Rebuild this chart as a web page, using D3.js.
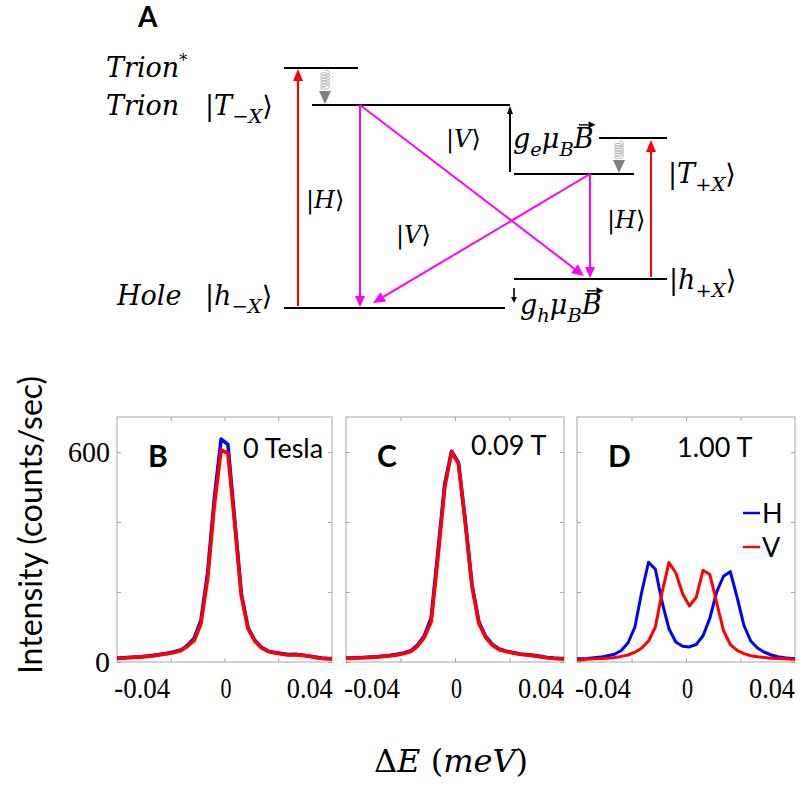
<!DOCTYPE html>
<html>
<head>
<meta charset="utf-8">
<script src="https://cdn.jsdelivr.net/npm/d3@7"></script>
<style>
  body { margin: 0; background: #fff; }
  svg { display: block; }
</style>
</head>
<body>
<script>
// energy detuning (meV)
var energy = [-0.08, -0.0775, -0.0725, -0.0675, -0.0625, -0.0575, -0.0525, -0.0475, -0.0425,
              -0.0375, -0.0325, -0.0275, -0.0225, -0.0175, -0.0125, -0.0075, -0.0025,
              0.0025, 0.0075, 0.0125, 0.0175, 0.0225, 0.0275, 0.0325, 0.0375, 0.0425,
              0.0475, 0.0525, 0.0575, 0.0625, 0.0675, 0.0725, 0.0775, 0.08];

// panel B, 0 Tesla
var blueB = [11, 11, 13, 14, 15, 17, 19, 22, 25, 29, 34, 48, 68, 120, 255, 470, 637,
             622, 410, 195, 98, 62, 42, 31, 27, 24, 21, 22, 20, 17, 14, 11, 10, 10];
var redB  = [10, 10, 12, 13, 14, 16, 18, 21, 24, 27, 32, 45, 62, 110, 240, 450, 606,
             596, 400, 190, 95, 60, 40, 30, 26, 23, 20, 21, 19, 17, 13, 10, 9, 9];
// panel C, 0.09 T
var blueC = [11, 11, 12, 13, 14, 15, 17, 19, 22, 26, 32, 48, 75, 125, 315, 510, 602,
             570, 405, 220, 115, 73, 50, 37, 31, 27, 23, 21, 19, 16, 13, 11, 10, 10];
var redC  = [10, 10, 11, 12, 13, 14, 16, 18, 20, 24, 30, 45, 70, 115, 300, 500, 600,
             567, 400, 215, 110, 70, 48, 35, 30, 26, 22, 20, 18, 15, 12, 10, 9, 9];
// panel D, 1.00 T
var blueD = [9, 9, 10, 12, 14, 18, 22, 33, 55, 100, 200, 285, 265, 170, 95, 57, 45,
             43, 50, 75, 125, 200, 245, 258, 185, 105, 60, 40, 28, 20, 15, 12, 10, 10];
var redD  = [6, 6, 8, 9, 10, 11, 13, 16, 20, 28, 40, 60, 100, 200, 284, 255, 195,
             160, 185, 262, 250, 170, 90, 50, 33, 24, 18, 15, 13, 11, 10, 9, 8, 8];

var panelNames = ["B", "C", "D"];
var fieldLabels = ["0 Tesla", "0.09 T", "1.00 T"];
var xTicks = [-0.04, 0, 0.04];
var yTicks = [0, 200, 400, 600];
var yTickLabels = [0, 600];
var legendNames = ["H", "V"];
var colors = {H: "#0000ff", V: "#ff0000"};

var svg = d3.select("body").append("svg")
            .attr("width", 800)
            .attr("height", 785);

var serif = "'DejaVu Serif', serif";
var sans = "Lato, 'Open Sans', sans-serif";

drawDiagram();
drawPanels();

function drawPanels() {
  var frames = [{x0: 117, x1: 332}, {x0: 346, x1: 564}, {x0: 577, x1: 795}];
  var top = 417, bottom = 662;
  var series = [[blueB, redB], [blueC, redC], [blueD, redD]];

  frames.forEach(function(f, p) {
    var x = d3.scaleLinear().domain([-0.08, 0.08]).range([f.x0, f.x1]);
    var y = d3.scaleLinear().domain([0, 700]).range([bottom, top]);
    var g = svg.append("g").attr("class", "panel");

    g.append("rect")
     .attr("x", f.x0).attr("y", top)
     .attr("width", f.x1 - f.x0).attr("height", bottom - top)
     .attr("fill", "none").attr("stroke", "#a6a6a6");

    var xb = g.append("g").attr("transform", "translate(0," + bottom + ")")
              .call(d3.axisBottom(x).tickValues(xTicks).tickSize(-4).tickPadding(15)
                      .tickFormat(function(d){ return d == 0 ? "0" : d3.format(".2f")(d).replace("−", "-"); }));
    g.append("g").attr("transform", "translate(0," + top + ")")
     .call(d3.axisTop(x).tickValues(xTicks).tickSize(-4).tickFormat(""));
    var yl = g.append("g").attr("transform", "translate(" + f.x0 + ",0)")
              .call(d3.axisLeft(y).tickValues(yTicks).tickSize(-4).tickPadding(7)
                      .tickFormat(function(d){ return (p == 0 && yTickLabels.indexOf(d) >= 0) ? d : ""; }));
    g.append("g").attr("transform", "translate(" + f.x1 + ",0)")
     .call(d3.axisRight(y).tickValues(yTicks).tickSize(-4).tickFormat(""));

    g.selectAll(".domain").remove();
    g.selectAll(".tick line").attr("stroke", "#a6a6a6");
    g.selectAll(".tick text")
     .attr("font-family", "'Liberation Serif', serif")
     .attr("font-size", 30)
     .attr("fill", "#000");
    xb.selectAll(".tick text")
      .attr("text-anchor", function(d){ return d < 0 ? "end" : d > 0 ? "start" : "middle"; })
      .attr("x", function(d){ return d < 0 ? -1 : d > 0 ? 8 : 1; })
      .attr("textLength", function(d){ return d < 0 ? 56 : d > 0 ? 46 : 11; })
      .attr("lengthAdjust", "spacingAndGlyphs");
    yl.selectAll(".tick text")
      .filter(function(d){ return d == 600; })
      .attr("textLength", 42)
      .attr("lengthAdjust", "spacingAndGlyphs");

    var line = d3.line()
                 .x(function(d, i){ return x(energy[i]); })
                 .y(function(d){ return y(d); });
    var w = p == 2 ? 3 : 3.6;
    g.append("path").datum(series[p][0])
     .attr("d", line).attr("fill", "none")
     .attr("stroke", colors.H).attr("stroke-width", w).attr("stroke-linejoin", "round");
    g.append("path").datum(series[p][1])
     .attr("d", line).attr("fill", "none")
     .attr("stroke", colors.V).attr("stroke-width", w).attr("stroke-linejoin", "round");

    g.append("text")
     .attr("x", f.x0 + 31).attr("y", 467)
     .attr("font-family", sans).attr("font-weight", "bold").attr("font-size", 30)
     .text(panelNames[p]);
    var fx = [243, 471, 677];
    var fy = [458, 455, 457];
    g.append("text")
     .attr("x", fx[p]).attr("y", fy[p])
     .attr("font-family", sans).attr("font-size", 27)
     .text(fieldLabels[p]);

    if (p == 2) {
      legendNames.forEach(function(n, i) {
        g.append("line")
         .attr("x1", 743).attr("x2", 760)
         .attr("y1", 513 + 34 * i).attr("y2", 513 + 34 * i)
         .attr("stroke", colors[n]).attr("stroke-width", 2.5);
        g.append("text")
         .attr("x", 762).attr("y", 523 + 34 * i)
         .attr("font-family", sans).attr("font-size", 27)
         .text(n);
      });
    }
  });

  svg.append("text")
     .attr("transform", "translate(42,525) rotate(-90)")
     .attr("text-anchor", "middle")
     .attr("font-family", sans).attr("font-size", 32)
     .text("Intensity (counts/sec)");

  var xt = svg.append("text")
              .attr("x", 451).attr("y", 772)
              .attr("text-anchor", "middle")
              .attr("font-family", serif).attr("font-size", 32);
  xt.append("tspan").text("Δ");
  xt.append("tspan").attr("font-style", "italic").text("E");
  xt.append("tspan").text(" (");
  xt.append("tspan").attr("font-style", "italic").text("meV");
  xt.append("tspan").text(")");
}

function mathText(x, y, parts, size) {
  var t = svg.append("text").attr("x", x).attr("y", y)
             .attr("font-family", serif).attr("font-size", size);
  var shift = 0;
  parts.forEach(function(part) {
    var s = t.append("tspan").text(part[0]);
    var target = 0;
    if (part[1] == "sub") {
      target = size * 0.3;
      s.attr("font-size", size * 0.72).attr("font-style", "italic");
    } else if (part[1] == "sup") {
      target = -size * 0.42;
      s.attr("font-size", size * 0.6);
    } else if (part[1] == "i") {
      s.attr("font-style", "italic");
    }
    if (target - shift != 0) s.attr("dy", target - shift);
    shift = target;
  });
  return t;
}

function arrow(x1, y1, x2, y2, color, width, hl, hw) {
  var a = Math.atan2(y2 - y1, x2 - x1);
  var bx = x2 - hl * Math.cos(a), by = y2 - hl * Math.sin(a);
  svg.append("line")
     .attr("x1", x1).attr("y1", y1).attr("x2", bx).attr("y2", by)
     .attr("stroke", color).attr("stroke-width", width);
  var px = -Math.sin(a) * hw / 2, py = Math.cos(a) * hw / 2;
  svg.append("polygon")
     .attr("points", [[x2, y2], [bx + px, by + py], [bx - px, by - py]].map(function(d){ return d.join(","); }).join(" "))
     .attr("fill", color);
}

function spring(cx, y0, y1) {
  var loops = 6, n = loops * 24, coilEnd = y1 - 13;
  var pts = [];
  for (var i = 0; i <= n; i++) {
    var t = i / n * loops * 2 * Math.PI;
    pts.push([cx + 4.5 * Math.sin(t), y0 + 1 + (coilEnd - y0 - 5) * i / n + 1.8 * (1 - Math.cos(t))]);
  }
  svg.append("path").attr("d", d3.line()(pts))
     .attr("fill", "none").attr("stroke", "#9a9a9a").attr("stroke-width", 0.7);
  svg.append("polygon")
     .attr("points", (cx - 6) + "," + coilEnd + " " + (cx + 6) + "," + coilEnd + " " + cx + "," + y1)
     .attr("fill", "#808080");
}

function overArrow(textSel) {
  var node = textSel.node().lastChild;
  var b = node.getBBox();
  var y = b.y + b.height * 0.06;
  arrow(b.x + b.width * 0.3, y, b.x + b.width + 2, y, "#000", 1.4, 7, 7);
}

function drawDiagram() {
  svg.append("text")
     .attr("x", 138).attr("y", 27)
     .attr("font-family", sans).attr("font-weight", "bold").attr("font-size", 28)
     .text("A");

  var levels = [[284, 68, 358], [312, 105, 510], [599, 138, 667],
                [514, 174, 634], [514, 279, 667], [284, 308, 505]];
  levels.forEach(function(l) {
    svg.append("line")
       .attr("x1", l[0]).attr("x2", l[2]).attr("y1", l[1]).attr("y2", l[1])
       .attr("stroke", "#000").attr("stroke-width", 2);
  });

  spring(325, 69, 104);
  spring(619, 140, 173);

  arrow(298, 306, 298, 69, "#ff0000", 2, 12, 10);
  arrow(651, 277, 651, 140, "#ff0000", 2, 12, 10);

  var mag = "#ff00ff";
  arrow(360, 105, 360, 307, mag, 2, 11, 10);
  arrow(360, 105, 584, 276, mag, 2, 12, 11);
  arrow(590, 174, 590, 278, mag, 2, 11, 10);
  arrow(590, 174, 373, 303, mag, 2, 12, 11);

  arrow(510, 172, 510, 106, "#000", 2, 8, 6);
  arrow(514, 288, 514, 303, "#000", 1.6, 6, 6);

  mathText(106, 77, [["Trion", "i"], ["*", "sup"]], 27);
  mathText(106, 115, [["Trion", "i"]], 27);
  mathText(117, 305, [["Hole", "i"]], 27);
  mathText(205, 115, [["|", "r"], ["T", "i"], ["−X", "sub"], ["⟩", "r"]], 27);
  mathText(205, 305, [["|", "r"], ["h", "i"], ["−X", "sub"], ["⟩", "r"]], 27);
  mathText(668, 183, [["|", "r"], ["T", "i"], ["+X", "sub"], ["⟩", "r"]], 27);
  mathText(669, 289, [["|", "r"], ["h", "i"], ["+X", "sub"], ["⟩", "r"]], 27);

  mathText(306, 208, [["|", "r"], ["H", "i"], ["⟩", "r"]], 24);
  mathText(396, 243, [["|", "r"], ["V", "i"], ["⟩", "r"]], 24);
  mathText(446, 147, [["|", "r"], ["V", "i"], ["⟩", "r"]], 24);
  mathText(607, 228, [["|", "r"], ["H", "i"], ["⟩", "r"]], 24);

  var ge = mathText(513, 148, [["g", "i"], ["e", "sub"], ["μ", "i"], ["B", "sub"], ["B", "i"]], 27);
  overArrow(ge);
  var gh = mathText(520, 314, [["g", "i"], ["h", "sub"], ["μ", "i"], ["B", "sub"], ["B", "i"]], 27);
  overArrow(gh);
}
</script>
</body>
</html>
